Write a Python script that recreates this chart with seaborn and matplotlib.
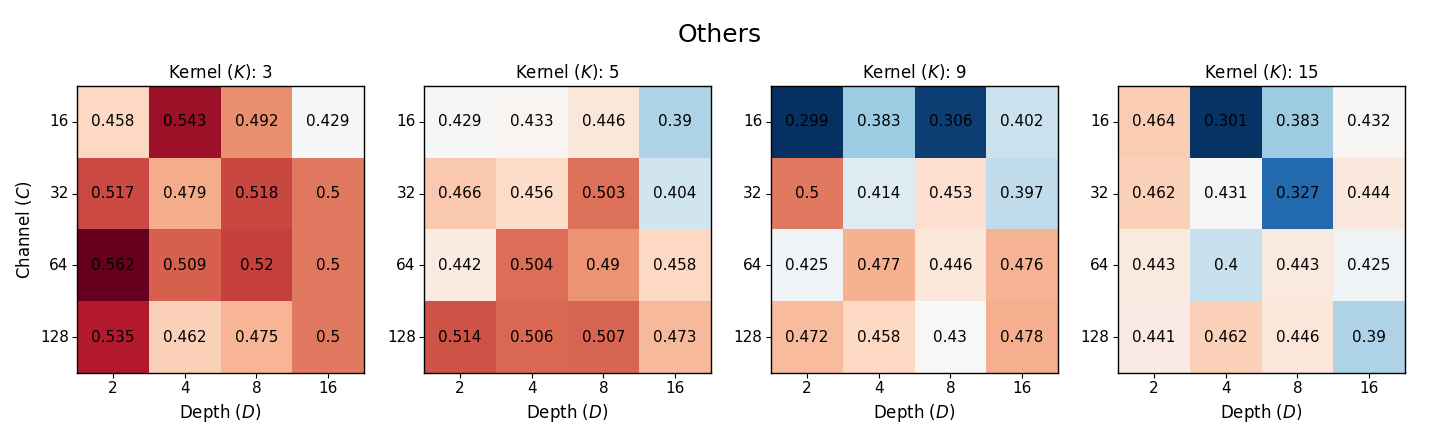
import numpy as np
import pandas as pd
import matplotlib
matplotlib.use('Agg')
import matplotlib.pyplot as plt
import seaborn as sns

# values (rows: channel, cols: depth)
channels = [16, 32, 64, 128]
depths = [2, 4, 8, 16]
kernels = [3, 5, 9, 15]

k3 = [[0.458, 0.543, 0.492, 0.429],
      [0.517, 0.479, 0.518, 0.5],
      [0.562, 0.509, 0.52, 0.5],
      [0.535, 0.462, 0.475, 0.5]]
k5 = [[0.429, 0.433, 0.446, 0.39],
      [0.466, 0.456, 0.503, 0.404],
      [0.442, 0.504, 0.49, 0.458],
      [0.514, 0.506, 0.507, 0.473]]
k9 = [[0.299, 0.383, 0.306, 0.402],
      [0.5, 0.414, 0.453, 0.397],
      [0.425, 0.477, 0.446, 0.476],
      [0.472, 0.458, 0.43, 0.478]]
k15 = [[0.464, 0.301, 0.383, 0.432],
       [0.462, 0.431, 0.327, 0.444],
       [0.443, 0.4, 0.443, 0.425],
       [0.441, 0.462, 0.446, 0.39]]

grids = [k3, k5, k9, k15]
# shared colour scale over all four panels
vmin = min(np.min(g) for g in grids)
vmax = max(np.max(g) for g in grids)

fig, axes = plt.subplots(1, 4, figsize=(14.4, 4.32), dpi=100)
fig.subplots_adjust(left=0.0535, right=0.9757, top=0.801, bottom=0.1366, wspace=0.209)

for i, (ax, k, g) in enumerate(zip(axes, kernels, grids)):
    df = pd.DataFrame(g, index=channels, columns=depths)
    sns.heatmap(df, ax=ax, cmap='RdBu_r', vmin=vmin, vmax=vmax, cbar=False,
                annot=True, fmt='g', square=True,
                annot_kws={'color': 'black', 'fontsize': 11})
    for s in ax.spines.values():
        s.set_visible(True)
        s.set_linewidth(1.0)
    ax.tick_params(labelsize=11, length=3.5, pad=2.5, rotation=0)
    ax.set_title(f'Kernel ($K$): {k}', fontsize=12)
    ax.set_xlabel('Depth ($D$)', fontsize=12)
    if i == 0:
        ax.set_ylabel('Channel ($C$)', fontsize=12)
    else:
        ax.set_ylabel('')

fig.suptitle('Others', fontsize=18, y=0.947)
fig.savefig('out.png', dpi=100)
